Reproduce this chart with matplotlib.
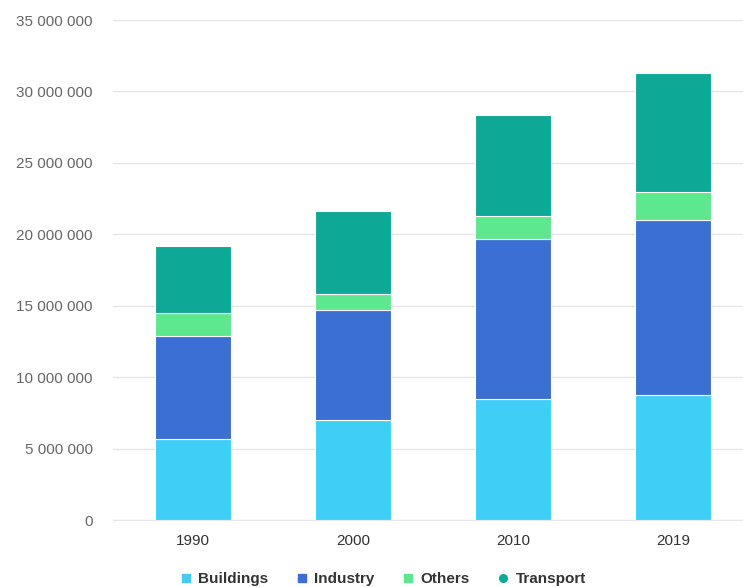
import matplotlib.pyplot as plt
from matplotlib.ticker import FuncFormatter
from matplotlib.lines import Line2D
import numpy as np

plt.rcParams['font.family'] = ['Liberation Sans', 'DejaVu Sans']

# emissions by sector, stacked per year
years = ['1990', '2000', '2010', '2019']
buildings = [5650000, 7000000, 8500000, 8750000]
industry = [7250000, 7700000, 11200000, 12250000]
others = [1570000, 1100000, 1600000, 1980000]
transport = [4710000, 5800000, 7050000, 8280000]

series = [('Buildings', buildings, '#3fcff6'),
          ('Industry', industry, '#3c6fd3'),
          ('Others', others, '#5ee88e'),
          ('Transport', transport, '#0ea897')]

fig = plt.figure(figsize=(7.43, 5.87), dpi=100)
ax = fig.add_axes([113 / 743, 67 / 587, 630 / 743, 500 / 587])

x = np.arange(len(years))
bottom = np.zeros(len(years))
for name, vals, col in series:
    ax.bar(x, vals, width=0.48, bottom=bottom, color=col,
           edgecolor='white', linewidth=0.8, zorder=3)
    bottom += np.array(vals)

ax.set_xlim(-0.5, 3.4375)
ax.set_ylim(0, 35000000)
ax.set_yticks(np.arange(0, 35000001, 5000000))
ax.yaxis.set_major_formatter(FuncFormatter(lambda v, p: f'{int(v):,}'.replace(',', ' ')))
ax.set_xticks(x)
ax.set_xticklabels(years)

ax.grid(axis='y', color='#e6e6e6', linewidth=1, zorder=0)
for s in ['top', 'right', 'left']:
    ax.spines[s].set_visible(False)
ax.spines['bottom'].set_color('#e6e6e6')
ax.tick_params(axis='y', length=0, pad=14.5, labelsize=11, labelcolor='#666666')
ax.tick_params(axis='x', length=0, pad=10, labelsize=11, labelcolor='#333333')

handles = [Line2D([], [], marker='s', linestyle='', markersize=5.5, color=c, label=n)
           for n, _, c in series[:3]]
handles.append(Line2D([], [], marker='o', linestyle='', markersize=5.5,
                      color=series[3][2], label=series[3][0]))
leg = fig.legend(handles=handles, loc='center', bbox_to_anchor=(382 / 743, 8 / 587),
                 ncol=4, frameon=False, handletextpad=0.3, columnspacing=1.7,
                 handlelength=1.0, prop={'weight': 'bold', 'size': 11})
for t in leg.get_texts():
    t.set_color('#333333')

fig.savefig('out.png', dpi=100)
